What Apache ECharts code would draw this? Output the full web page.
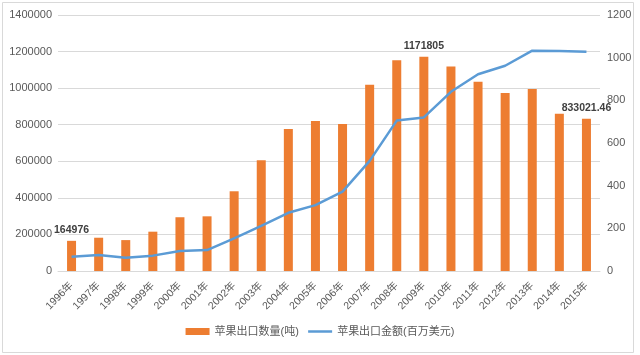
<!DOCTYPE html>
<html>
<head>
<meta charset="utf-8">
<script src="https://cdn.jsdelivr.net/npm/echarts@6/dist/echarts.min.js"></script>
<style>html,body{margin:0;padding:0;background:#fff}#c{width:640px;height:355px}</style>
</head>
<body>
<div id="c"></div>
<script>
var categories = ['1996年','1997年','1998年','1999年','2000年','2001年','2002年','2003年','2004年','2005年','2006年','2007年','2008年','2009年','2010年','2011年','2012年','2013年','2014年','2015年'];
var quantity = [164976,182000,169000,215000,294000,299000,436000,605000,776000,820000,804000,1018000,1152000,1171805,1119000,1035000,973000,995000,860000,833021.46];
var amount = [67,75,62,72,94,98,153,211,273,309,372,516,705,720,840,922,962,1033,1031,1028];
var labeledIdx = [0,13,19];
var leftTicks = {min:0,max:1400000,interval:200000};
var rightTicks = {min:0,max:1200,interval:200};

var font = '"Liberation Sans","Noto Sans CJK SC",sans-serif';
var barData = quantity.map(function(v,i){
  var item = {value:v};
  if (labeledIdx.indexOf(i) >= 0) {
    item.label = {show:true, position:'top', distance:5, color:'#404040', fontSize:10.5, fontWeight:'bold', fontFamily:font};
  }
  return item;
});
function plain(v){ return String(v); }

var chart = echarts.init(document.getElementById('c'), null, {renderer:'canvas'});
chart.setOption({
  animation:false,
  backgroundColor:'#fff',
  graphic:[{type:'rect',shape:{x:2.5,y:2.5,width:631,height:350},style:{fill:'none',stroke:'#D9D9D9',lineWidth:1},silent:true}],
  grid:{left:58,right:40,top:15,bottom:84,containLabel:false},
  legend:{
    bottom:13,left:'center',itemWidth:24,itemHeight:7,itemGap:8,
    textStyle:{color:'#595959',fontSize:11,fontFamily:font},
    data:[{name:'苹果出口数量(吨)',icon:'rect'},
          {name:'苹果出口金额(百万美元)',itemStyle:{opacity:0},lineStyle:{color:'#5B9BD5',width:2.5}}]
  },
  xAxis:{
    type:'category',data:categories,
    axisLine:{lineStyle:{color:'#D9D9D9'}},
    axisTick:{show:false},
    axisLabel:{rotate:45,color:'#595959',fontSize:10.5,fontFamily:font,margin:13,interval:0}
  },
  yAxis:[{
    type:'value',min:leftTicks.min,max:leftTicks.max,interval:leftTicks.interval,
    axisLine:{show:false},axisTick:{show:false},
    splitLine:{lineStyle:{color:'#D9D9D9'}},
    axisLabel:{color:'#595959',fontSize:11,fontFamily:font,margin:6,formatter:plain}
  },{
    type:'value',min:rightTicks.min,max:rightTicks.max,interval:rightTicks.interval,
    axisLine:{show:false},axisTick:{show:false},splitLine:{show:false},
    axisLabel:{color:'#595959',fontSize:11,fontFamily:font,margin:7,formatter:plain}
  }],
  series:[{
    name:'苹果出口数量(吨)',type:'bar',data:barData,barWidth:9,
    itemStyle:{color:'#ED7D31'}
  },{
    name:'苹果出口金额(百万美元)',type:'line',yAxisIndex:1,data:amount,
    symbol:'none',lineStyle:{color:'#5B9BD5',width:2.5},itemStyle:{color:'#5B9BD5'}
  }]
});
</script>
</body>
</html>
